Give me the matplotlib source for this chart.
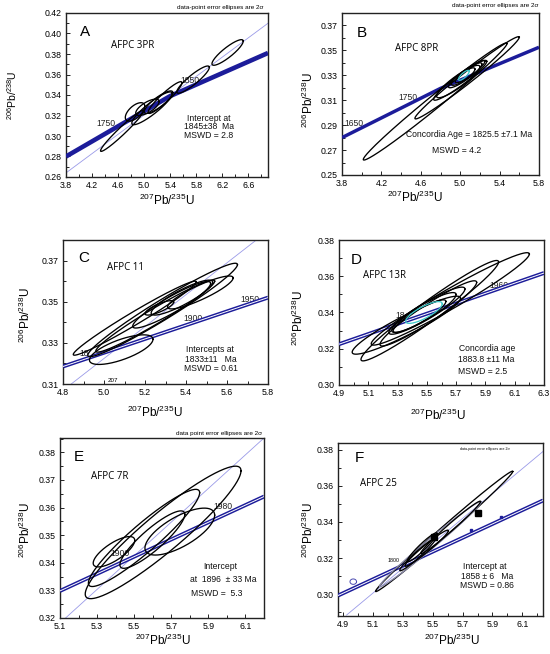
import numpy as np
import matplotlib
matplotlib.use("Agg")
import matplotlib.pyplot as plt
from matplotlib.ticker import MultipleLocator

plt.rcParams['font.family'] = ['Liberation Sans', 'DejaVu Sans']
plt.rcParams['mathtext.fontset'] = 'custom'
plt.rcParams['mathtext.rm'] = 'Liberation Sans'

# ---------------- data ----------------
# Panel A  (AFPC 3PR)
A_x   = [6.28, 5.75, 5.32, 5.12, 4.86, 4.66, 5.22, 5.05]
A_sx  = [0.24, 0.25, 0.26, 0.31, 0.15, 0.33, 0.22, 0.18]
A_y   = [0.3815, 0.355, 0.3375, 0.327, 0.3235, 0.305, 0.333, 0.328]
A_sy  = [0.0125, 0.0133, 0.0155, 0.016, 0.009, 0.020, 0.011, 0.008]
A_rho = [0.88, 0.90, 0.93, 0.90, 0.60, 0.97, 0.85, 0.70]
A_conc_x = [3.8, 5.4, 6.9]
A_conc_y = [0.280, 0.339, 0.381]
A_disc_x = [3.8, 6.9]
A_disc_y = [0.264, 0.410]

# Panel B  (AFPC 8PR)
B_x   = [4.746, 5.07, 5.00, 4.98, 5.05, 5.03, 5.10]
B_sx  = [0.73, 0.53, 0.27, 0.22, 0.17, 0.12, 0.15]
B_y   = [0.309, 0.328, 0.326, 0.325, 0.330, 0.329, 0.333]
B_sy  = [0.047, 0.033, 0.016, 0.013, 0.010, 0.007, 0.009]
B_rho = [0.99, 0.985, 0.95, 0.90, 0.90, 0.85, 0.90]
B_cyan = [5.037, 0.055, 0.330, 0.004, 0.8]
B_conc_x = [3.8, 4.8, 5.8]
B_conc_y = [0.280, 0.3195, 0.3525]

# Panel C  (AFPC 11)
C_x   = [5.286, 5.084, 5.25, 5.33, 5.38, 5.47, 5.27, 5.15]
C_sx  = [0.365, 0.155, 0.29, 0.19, 0.15, 0.16, 0.07, 0.30]
C_y   = [0.346, 0.3267, 0.343, 0.3485, 0.352, 0.3545, 0.347, 0.342]
C_sy  = [0.0227, 0.0072, 0.0175, 0.0113, 0.0085, 0.008, 0.0035, 0.018]
C_rho = [0.97, 0.70, 0.97, 0.92, 0.88, 0.88, 0.80, 0.98]
C_conc_x = [4.8, 5.8]
C_conc_y = [0.3185, 0.3520]
C_disc_x = [4.84, 5.743]
C_disc_y = [0.310, 0.380]

# Panel D  (AFPC 13R)
D_x   = [5.52, 5.66, 5.51, 5.36, 5.48, 5.45, 5.50]
D_sx  = [0.47, 0.54, 0.33, 0.37, 0.22, 0.18, 0.26]
D_y   = [0.341, 0.3475, 0.3395, 0.333, 0.340, 0.338, 0.341]
D_sy  = [0.0277, 0.0255, 0.018, 0.016, 0.011, 0.009, 0.013]
D_rho = [0.97, 0.97, 0.95, 0.93, 0.90, 0.90, 0.92]
D_cyan = [5.48, 0.125, 0.340, 0.006, 0.8]
D_conc_x = [4.9, 6.3]
D_conc_y = [0.3225, 0.3618]

# Panel E  (AFPC 7R)
E_x   = [5.656, 5.553, 5.391, 5.598, 5.746]
E_sx  = [0.42, 0.30, 0.112, 0.175, 0.188]
E_y   = [0.351, 0.349, 0.344, 0.3484, 0.3513]
E_sy  = [0.024, 0.0176, 0.0055, 0.0104, 0.0085]
E_rho = [0.93, 0.93, 0.75, 0.88, 0.70]
E_conc_x = [5.1, 6.2]
E_conc_y = [0.3298, 0.3640]
E_disc_x = [5.13, 6.2]
E_disc_y = [0.320, 0.3852]

# Panel F  (AFPC 25)
F_x   = [5.577, 5.485, 5.46, 5.43, 5.62, 5.40]
F_sx  = [0.459, 0.34, 0.145, 0.10, 0.20, 0.12]
F_y   = [0.3348, 0.3278, 0.3255, 0.326, 0.337, 0.322]
F_sy  = [0.0333, 0.0236, 0.010, 0.008, 0.0145, 0.009]
F_rho = [0.995, 0.99, 0.97, 0.95, 0.985, 0.97]
F_col = ['k', '#8a8aa8', 'k', 'k', 'k', 'k']
F_conc_x = [4.867, 6.238]
F_conc_y = [0.2993, 0.3519]
F_disc_x = [4.924, 6.238]
F_disc_y = [0.2885, 0.3790]
F_blob_x = [5.802, 5.507]
F_blob_y = [0.3449, 0.3316]
F_dot_x = [5.758, 5.958]
F_dot_y = [0.3355, 0.3427]
F_small = [4.969, 0.022, 0.307, 0.0015, 0.0]

BLUE = '#1c1c9a'
DISC = '#9a9ae8'

W, H = 550, 654
fig = plt.figure(figsize=(W / 100, H / 100), dpi=100)


def mk_ax(l, r, t, b):
    return fig.add_axes([l / W, 1 - b / H, (r - l) / W, (b - t) / H])


def ellipse(ax, x, sx, y, sy, rho, color='k', lw=0.95):
    t = np.linspace(0, 2 * np.pi, 300)
    ex = x + sx * np.cos(t)
    ey = y + sy * (rho * np.cos(t) + np.sqrt(1 - rho ** 2) * np.sin(t))
    ax.plot(ex, ey, color=color, lw=lw, zorder=4)


def style(ax, xlim, ylim, xmaj, ymaj, xt0, yt0):
    ax.set_xlim(*xlim)
    ax.set_ylim(*ylim)
    ax.set_xticks(np.round(np.arange(xt0, xlim[1] + 1e-9, xmaj), 3))
    ax.set_yticks(np.round(np.arange(yt0, ylim[1] + 1e-9, ymaj), 3))
    ax.xaxis.set_minor_locator(MultipleLocator(xmaj / 2))
    ax.yaxis.set_minor_locator(MultipleLocator(ymaj / 2))
    ax.tick_params(which='both', direction='in', labelsize=6.3, pad=3,
                   top=False, right=False, width=0.6)
    ax.tick_params(which='major', length=3)
    ax.tick_params(which='minor', length=2)
    for s in ax.spines.values():
        s.set_linewidth(1.0)
        s.set_color('#222222')


def conc(ax, xs, ys, double=True, lw=2.8):
    ax.plot(xs, ys, color=BLUE, lw=lw, zorder=3, solid_capstyle='butt')
    if double:
        ax.plot(xs, ys, color='white', lw=0.7, zorder=3, solid_capstyle='butt')


def labels(xc, xy, yc, yy, fs=8.5, yfs=8.5):
    fig.text(xc / W, 1 - xy / H, r'$^{207}$Pb/$^{235}$U', ha='center', va='center', fontsize=fs)
    fig.text(yc / W, 1 - yy / H, r'$^{206}$Pb/$^{238}$U', ha='center', va='center',
             fontsize=yfs, rotation=90)


TXT = dict(fontsize=6.2, ha='center', va='center', color='#111111', zorder=6)
AGE = dict(fontsize=6.2, ha='center', va='center', color='#222222', zorder=2)
NAME = dict(fontsize=7, ha='center', va='center', family=['Open Sans', 'DejaVu Sans'], zorder=6)
LET = dict(fontsize=11, ha='center', va='center', zorder=6)

# ---------------- Panel A ----------------
ax = mk_ax(66, 268, 13, 177)
style(ax, (3.8, 6.9), (0.26, 0.42), 0.4, 0.02, 3.8, 0.26)
ax.plot(A_disc_x, A_disc_y, color=DISC, lw=0.6, zorder=2)
conc(ax, A_conc_x, A_conc_y, double=False, lw=3.3)
for i in range(len(A_x)):
    ellipse(ax, A_x[i], A_sx[i], A_y[i], A_sy[i], A_rho[i])
ax.text(4.09, 0.4015, 'A', **LET)
ax.text(4.82, 0.3886, 'AFPC 3PR', **NAME)
ax.text(5.99, 0.3173, 'Intercept at', **TXT)
ax.text(5.99, 0.3089, '1845±38  Ma', **TXT)
ax.text(5.99, 0.3001, 'MSWD = 2.8', **TXT)
ax.text(4.41, 0.3125, '1750', **AGE)
ax.text(5.70, 0.3546, '1850', **AGE)
fig.text(263 / W, 1 - 7 / H, 'data-point error ellipses are 2σ', ha='right', va='center', fontsize=4.6)
labels(167, 200, 12, 95, yfs=7.5)

# ---------------- Panel B ----------------
ax = mk_ax(342, 539, 13, 175)
style(ax, (3.8, 5.8), (0.25, 0.38), 0.4, 0.02, 3.8, 0.25)
conc(ax, B_conc_x, B_conc_y, double=False, lw=2.5)
for i in range(len(B_x)):
    ellipse(ax, B_x[i], B_sx[i], B_y[i], B_sy[i], B_rho[i])
ellipse(ax, *B_cyan, color='#3cc8c8', lw=0.9)
ax.text(4.00, 0.3641, 'B', **LET)
ax.text(4.56, 0.3519, 'AFPC 8PR', **NAME)
ax.text(4.468, 0.3121, '1750', **AGE)
ax.text(3.919, 0.2913, '1650', **AGE)
ax.text(5.088, 0.2828, 'Concordia Age = 1825.5 ±7.1 Ma', **TXT)
ax.text(4.959, 0.2695, 'MSWD = 4.2', **TXT)
fig.text(538 / W, 1 - 6 / H, 'data-point error ellipses are 2σ', ha='right', va='center', fontsize=4.6)
labels(415, 197, 308, 100)

# ---------------- Panel C ----------------
ax = mk_ax(63, 268, 240, 384)
style(ax, (4.8, 5.8), (0.31, 0.38), 0.2, 0.02, 4.8, 0.31)
ax.plot(C_disc_x, C_disc_y, color=DISC, lw=0.6, zorder=2)
conc(ax, C_conc_x, C_conc_y)
for i in range(len(C_x)):
    ellipse(ax, C_x[i], C_sx[i], C_y[i], C_sy[i], C_rho[i])
ax.text(4.90, 0.3711, 'C', **LET)
ax.text(5.103, 0.3668, 'AFPC 11', **NAME)
ax.text(5.516, 0.3267, 'Intercepts at', **TXT)
ax.text(5.52, 0.3218, '1833±11   Ma', **TXT)
ax.text(5.52, 0.3174, 'MSWD = 0.61', **TXT)
ax.text(5.435, 0.3420, '1900', **AGE)
ax.text(5.71, 0.3509, '1950', **AGE)
ax.text(4.905, 0.3250, '18', **AGE)
ax.text(5.043, 0.3116, '207', fontsize=4.5, ha='center', va='center')
labels(155, 412, 25, 315)

# ---------------- Panel D ----------------
ax = mk_ax(339, 544, 240, 385)
style(ax, (4.9, 6.3), (0.30, 0.38), 0.2, 0.02, 4.9, 0.30)
conc(ax, D_conc_x, D_conc_y)
for i in range(len(D_x)):
    ellipse(ax, D_x[i], D_sx[i], D_y[i], D_sy[i], D_rho[i])
ellipse(ax, *D_cyan, color='#3cc8c8', lw=0.9)
ax.text(5.018, 0.3692, 'D', **LET)
ax.text(5.21, 0.3606, 'AFPC 13R', **NAME)
ax.text(5.914, 0.3202, 'Concordia age', **TXT)
ax.text(5.907, 0.3138, '1883.8 ±11 Ma', **TXT)
ax.text(5.88, 0.3077, 'MSWD = 2.5', **TXT)
ax.text(5.993, 0.3550, '1960', **AGE)
ax.text(5.32, 0.3385, '18', **AGE)
labels(438, 415, 298, 318)

# ---------------- Panel E ----------------
ax = mk_ax(60, 264, 438, 618)
style(ax, (5.1, 6.2), (0.32, 0.3852), 0.2, 0.01, 5.1, 0.32)
ax.plot(E_disc_x, E_disc_y, color=DISC, lw=0.6, zorder=2)
conc(ax, E_conc_x, E_conc_y)
for i in range(len(E_x)):
    ellipse(ax, E_x[i], E_sx[i], E_y[i], E_sy[i], E_rho[i])
ax.text(5.199, 0.3782, 'E', **LET)
ax.text(5.369, 0.3713, 'AFPC 7R', **NAME)
ax.text(5.962, 0.3385, 'Intercept', **TXT)
ax.text(5.98, 0.3341, 'at  1896  ± 33 Ma', **TXT)
ax.text(5.944, 0.3288, 'MSWD =  5.3', **TXT)
ax.text(5.423, 0.3434, '1900', **AGE)
ax.text(5.98, 0.3604, '1980', **AGE)
fig.text(262 / W, 1 - 433 / H, 'data point error ellipses are 2σ', ha='right', va='center', fontsize=4.6)
labels(163, 640, 25, 530)

# ---------------- Panel F ----------------
ax = mk_ax(338, 543, 443, 616)
style(ax, (4.867, 6.238), (0.288, 0.3837), 0.2, 0.02, 4.9, 0.30)
ax.plot(F_disc_x, F_disc_y, color=DISC, lw=0.6, zorder=2)
conc(ax, F_conc_x, F_conc_y)
ax.plot(F_dot_x, F_dot_y, 's', color=BLUE, ms=2, zorder=3)
for i in range(len(F_x)):
    ellipse(ax, F_x[i], F_sx[i], F_y[i], F_sy[i], F_rho[i], color=F_col[i])
ellipse(ax, *F_small, color='#4a4ab0', lw=0.7)
ax.plot(F_blob_x, F_blob_y, 's', color='k', ms=4, zorder=5)
ax.text(5.007, 0.3754, 'F', **LET)
ax.text(5.136, 0.3615, 'AFPC 25', **NAME)
ax.text(5.847, 0.3153, 'Intercept at', **TXT)
ax.text(5.862, 0.3098, '1858 ± 6   Ma', **TXT)
ax.text(5.862, 0.3048, 'MSWD = 0.86', **TXT)
ax.text(5.24, 0.3187, '1800', fontsize=3.8, ha='center', va='center', zorder=2)
ax.text(5.847, 0.3806, 'data-point error ellipses are 2σ', fontsize=2.6, ha='center', va='center')
labels(452, 640, 308, 530)

fig.savefig('out.png', dpi=100)
